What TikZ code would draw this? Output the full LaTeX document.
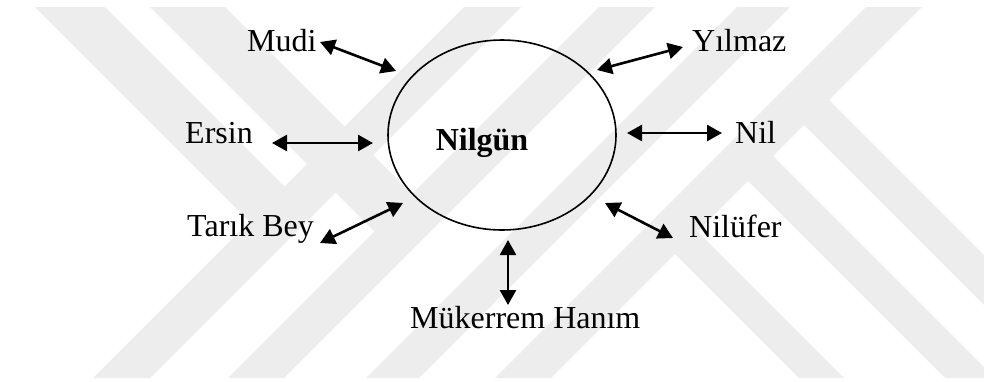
\documentclass[tikz,border=0pt]{standalone}
\usepackage{fontspec}
\setmainfont{Liberation Serif}
\usetikzlibrary{shapes.geometric,arrows.meta}
\begin{document}
\begin{tikzpicture}[x=1pt,y=-1pt,
  lbl/.style={inner sep=0pt, font=\fontsize{32}{36}\selectfont},
  ctr/.style={inner sep=0pt, font=\fontsize{32}{36}\selectfont\bfseries},
  rel/.style={line width=2.6pt, {Triangle[length=15pt,width=16pt]}-{Triangle[length=15pt,width=16pt]}},
  wm/.style={fill=black!7, draw=none},
  circ/.style={draw, ellipse, line width=1.6pt, minimum width=228pt, minimum height=190pt, inner sep=0pt}]
\useasboundingbox (0,0) rectangle (984,381);
% watermark
\begin{scope}
\clip (0,7) rectangle (984,378);
\fill[wm] (464,7)--(521,7)--(150,378)--(93,378)--cycle;
\fill[wm] (599,7)--(655,7)--(284,378)--(228,378)--cycle;
\fill[wm] (737,7)--(790,7)--(419,378)--(366,378)--cycle;
\fill[wm] (866,7)--(922,7)--(551,378)--(495,378)--cycle;
\fill[wm] (35,7)--(105,7)--(298.75,200.75)--(263.75,235.75)--cycle;
\fill[wm] (150,7)--(225,7)--(426,208)--(388.5,245.5)--cycle;
\fill[wm] (661,240)--(683.5,217.5)--(844,378)--(799,378)--cycle;
\fill[wm] (734,167)--(759,142)--(995,378)--(945,378)--cycle;
\fill[wm] (790,111)--(815,86)--(1107,378)--(1057,378)--cycle;
\end{scope}
% centre
\node[circ] (ell) at (502,135) {};
\node[ctr, anchor=base] (nilgun) at (482,150) {Nilgün};
% labels
\node[lbl, anchor=base west] (mudi) at (247,51) {Mudi};
\node[lbl, anchor=base west] (yilmaz) at (692,51) {Yılmaz};
\node[lbl, anchor=base west] (ersin) at (185,143) {Ersin};
\node[lbl, anchor=base west] (nil) at (735,143) {Nil};
\node[lbl, anchor=base west] (tarik) at (187,236) {Tarık Bey};
\node[lbl, anchor=base west] (nilufer) at (689,237) {Nilüfer};
\node[lbl, anchor=base west] (mukerrem) at (410,328) {Mükerrem Hanım};
% arrow ends
\coordinate (mudiA) at (320,42);   \coordinate (mudiB) at (396,71);
\coordinate (yilA) at (597,70);    \coordinate (yilB) at (683,47);
\coordinate (ersA) at (272,143);   \coordinate (ersB) at (373,143);
\coordinate (nilA) at (627,133);   \coordinate (nilB) at (722,133);
\coordinate (tarA) at (320,243);   \coordinate (tarB) at (403,203);
\coordinate (nlfA) at (605,203);   \coordinate (nlfB) at (673,238);
\coordinate (mukA) at (508,240);   \coordinate (mukB) at (508,305);
\draw[rel] (mudiA) -- (mudiB);
\draw[rel] (yilA) -- (yilB);
\draw[rel] (ersA) -- (ersB);
\draw[rel] (nilA) -- (nilB);
\draw[rel] (tarA) -- (tarB);
\draw[rel] (nlfA) -- (nlfB);
\draw[rel] (mukA) -- (mukB);
\end{tikzpicture}
\end{document}
